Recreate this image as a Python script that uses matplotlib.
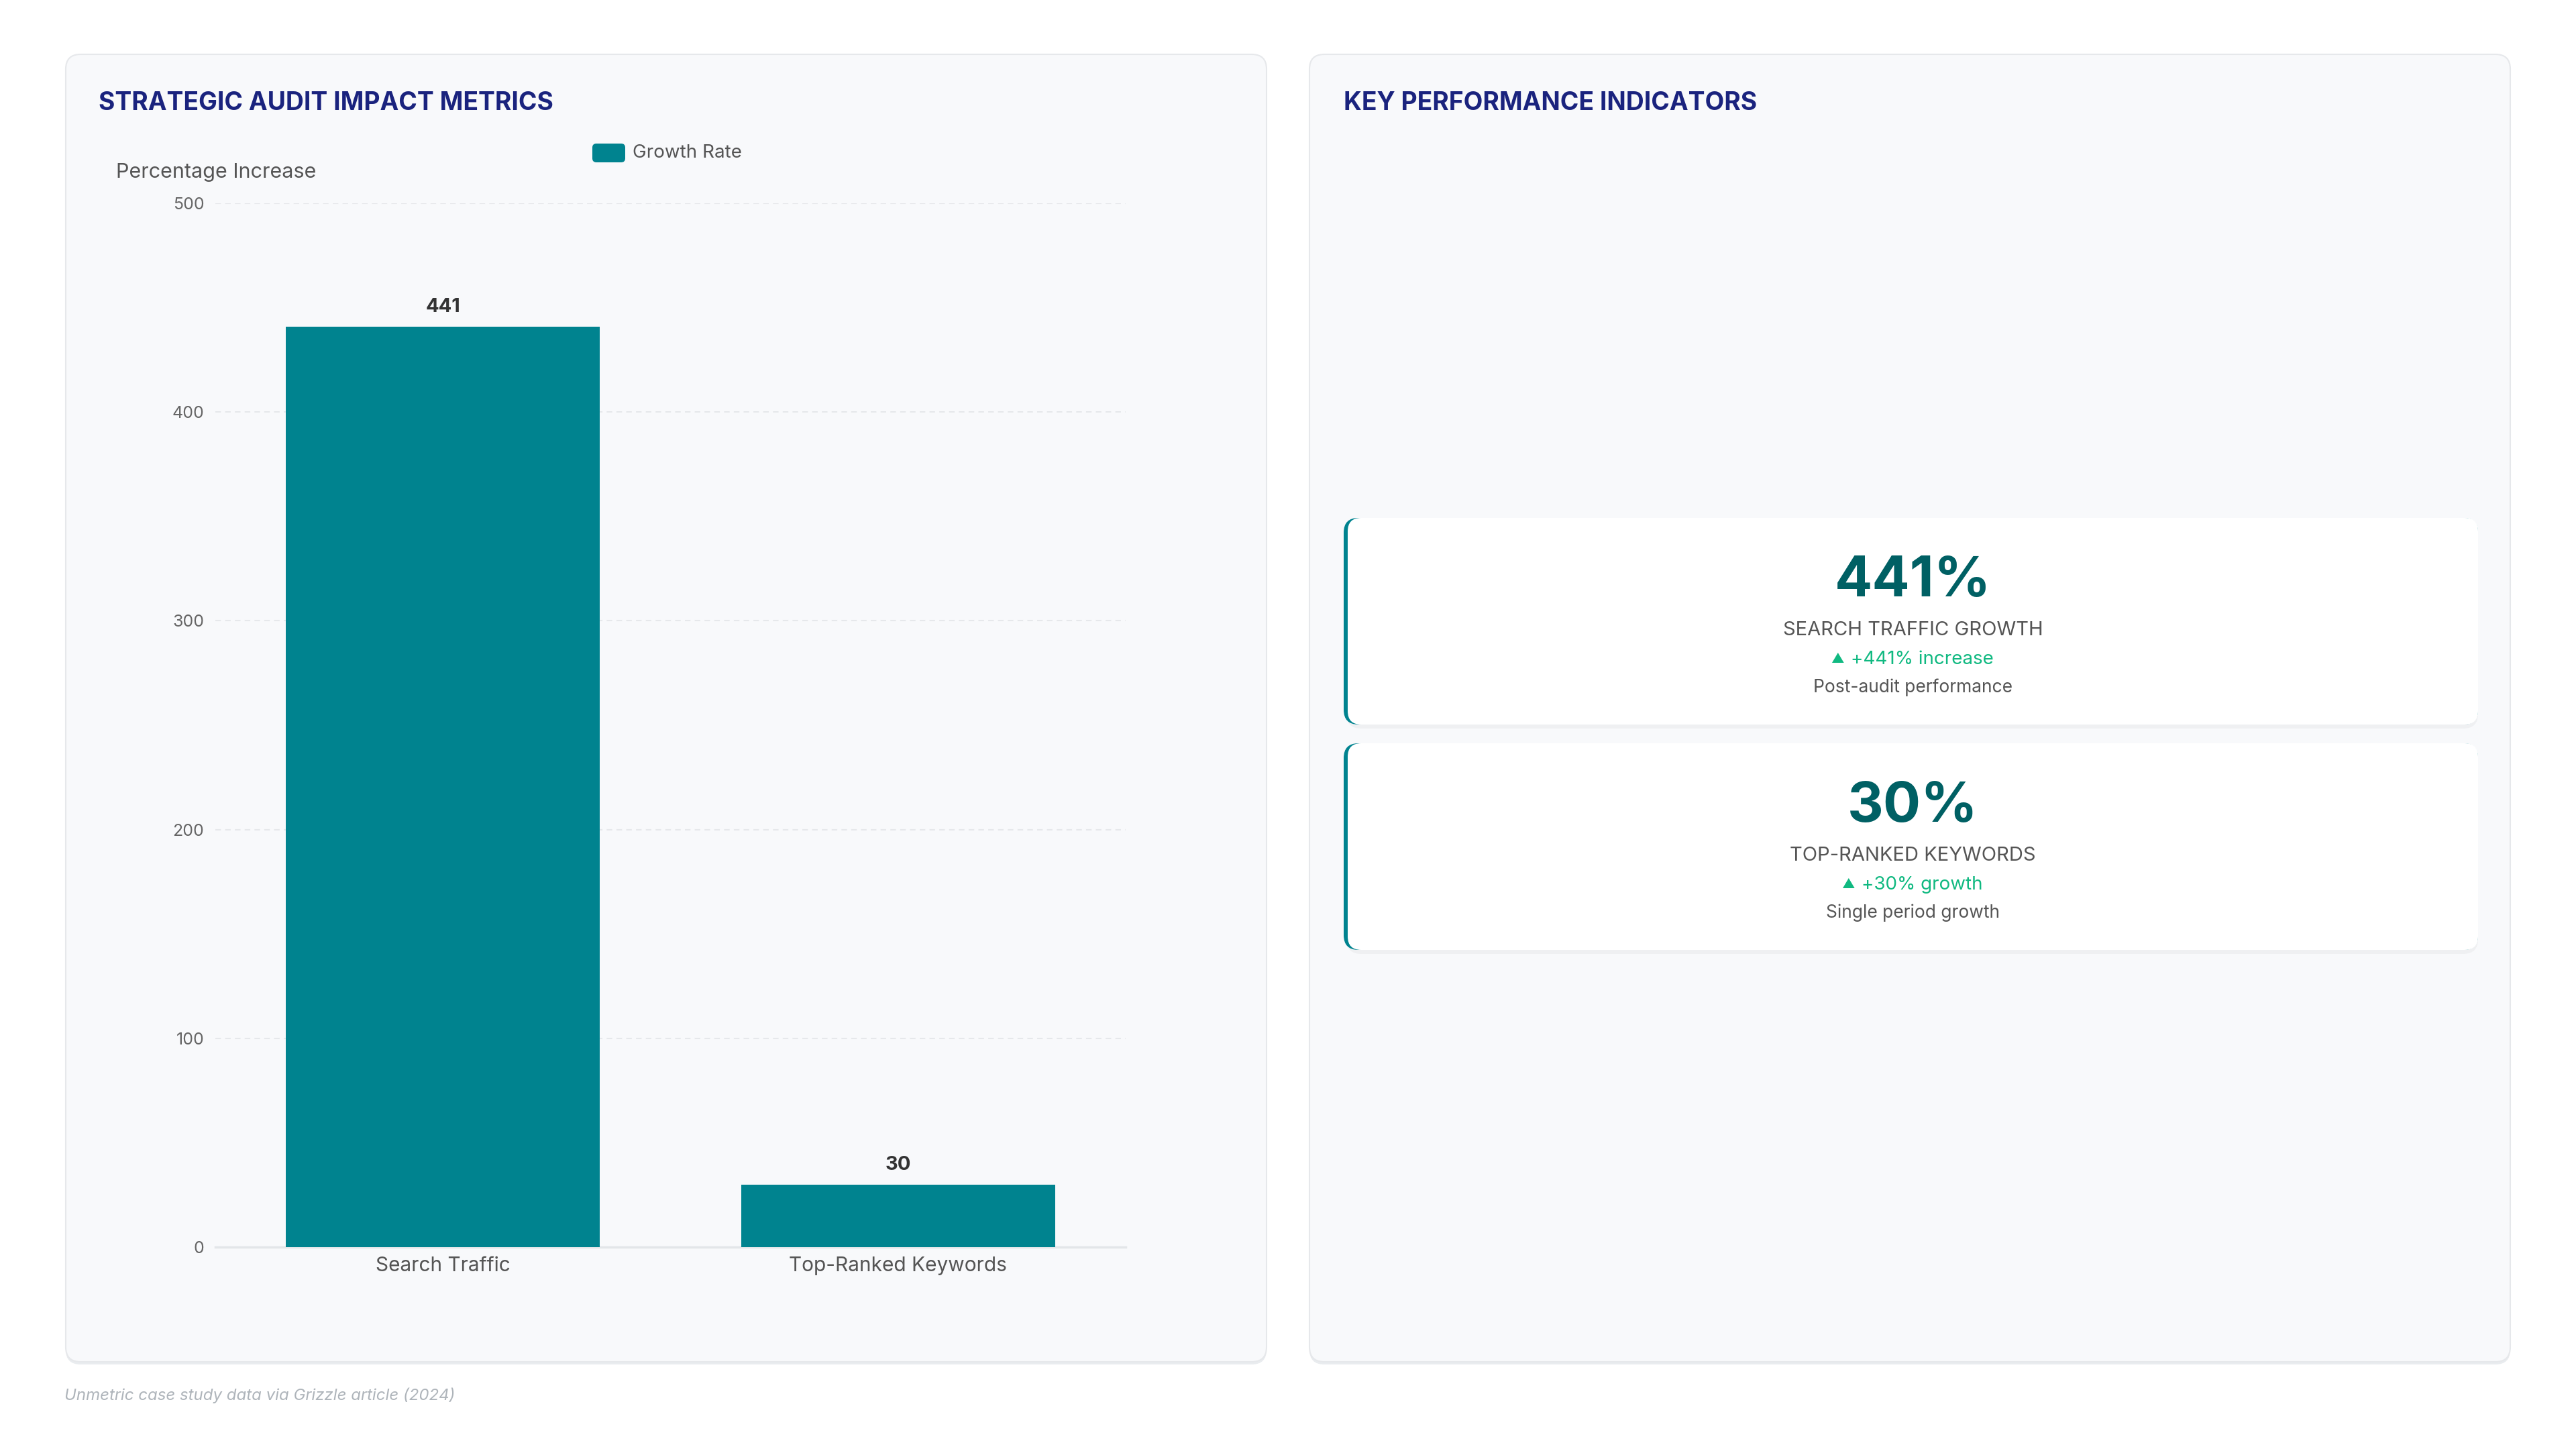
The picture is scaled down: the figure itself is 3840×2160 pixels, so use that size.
import matplotlib
matplotlib.use("Agg")
import matplotlib.pyplot as plt
from matplotlib.patches import FancyBboxPatch

plt.rcParams['font.family'] = ['Inter', 'DejaVu Sans']

# data
categories = ["Search Traffic", "Top-Ranked Keywords"]
growth_rate = [441, 30]
series_name = "Growth Rate"
y_ticks = [0, 100, 200, 300, 400, 500]

kpi_values = ["441%", "30%"]
kpi_titles = ["SEARCH TRAFFIC GROWTH", "TOP-RANKED KEYWORDS"]
kpi_changes = ["+441% increase", "+30% growth"]
kpi_notes = ["Post-audit performance", "Single period growth"]

TEAL = "#00838f"
NAVY = "#1a237e"
KPI_TEAL = "#006064"
GREEN = "#10b981"

W, H = 3840, 2160
fig = plt.figure(figsize=(38.4, 21.6), dpi=100)
fig.patch.set_facecolor("white")

# background layer in pixel units
bg = fig.add_axes([0, 0, 1, 1])
bg.set_xlim(0, W)
bg.set_ylim(H, 0)
bg.axis("off")


def rbox(x, y, w, h, r, fc, ec="none", lw=0, z=1, alpha=1.0):
    p = FancyBboxPatch((x, y), w, h, boxstyle=f"round,pad=0,rounding_size={r}",
                       fc=fc, ec=ec, lw=lw, zorder=z, alpha=alpha)
    bg.add_patch(p)
    return p


# panels
for px in (98, 1952):
    rbox(px, 84, 1790, 1950, 22, "#e9ecef", z=1)
    rbox(px, 81, 1790, 1949, 22, "#f8f9fb", ec="#e6e8eb", lw=1.5, z=2)

bg.text(147, 164, "STRATEGIC AUDIT IMPACT METRICS", fontsize=26.8, fontweight="bold",
        color=NAVY, va="baseline", zorder=5)
bg.text(2003, 164, "KEY PERFORMANCE INDICATORS", fontsize=26.8, fontweight="bold",
        color=NAVY, va="baseline", zorder=5)

# legend
rbox(883, 214, 49, 28, 6, TEAL, z=5)
bg.text(943, 228, series_name, fontsize=20, color="#555", va="center", zorder=5)
bg.text(173, 257, "Percentage Increase", fontsize=22, color="#555", va="center", zorder=5)

# caption
bg.text(96, 2087, "Unmetric case study data via Grizzle article (2024)", fontsize=17.3,
        style="italic", color="#aeb4ba", va="baseline", zorder=5)

# bar chart
ax = fig.add_axes([321 / W, 1 - 1859 / H, (1678 - 321) / W, (1859 - 303) / H])
ax.set_facecolor("none")
x = list(range(len(categories)))
ax.bar(x, growth_rate, width=0.69, color=TEAL, zorder=3)
for xi, v in zip(x, growth_rate):
    ax.annotate(f"{v}", (xi, v), xytext=(0, 16), textcoords="offset pixels",
                ha="center", va="bottom", fontsize=21, fontweight="bold", color="#333")
ax.set_xlim(-0.5, 1.5)
ax.set_ylim(0, 500)
ax.set_yticks(y_ticks)
ax.set_xticks(x)
ax.set_xticklabels(categories)
ax.tick_params(axis="y", length=0, pad=12, labelsize=18, labelcolor="#666")
ax.tick_params(axis="x", length=0, pad=10, labelsize=21.5, labelcolor="#555")
ax.grid(axis="y", linestyle=(0, (4, 3)), color="#e6e8eb", lw=1.5, zorder=0)
for s in ("top", "right", "left"):
    ax.spines[s].set_visible(False)
ax.spines["bottom"].set_color("#e3e6e9")
ax.spines["bottom"].set_linewidth(2.5)

# KPI cards
card_x, card_w, card_h = 2003, 1691, 308
card_tops = [772, 1108]
cx = card_x + card_w / 2 + 3
renderer = fig.canvas.get_renderer()
for i, top in enumerate(card_tops):
    rbox(card_x + 4, top + 6, card_w - 4, card_h, 22, "#000000", z=3, alpha=0.035)
    rbox(card_x, top, card_w, card_h, 22, TEAL, z=4)
    rbox(card_x + 6, top, card_w - 6, card_h, 20, "white", z=5)
    bg.text(cx, top + 117, kpi_values[i], fontsize=60, fontweight="bold",
            color=KPI_TEAL, ha="center", va="baseline", zorder=6)
    bg.text(cx, top + 175, kpi_titles[i], fontsize=21, color="#555",
            ha="center", va="baseline", zorder=6)
    t = bg.text(cx + 14, top + 218, kpi_changes[i], fontsize=20, color=GREEN,
                ha="center", va="baseline", zorder=6)
    # small up-arrow just left of the change text
    x0 = t.get_window_extent(renderer).x0
    bg.text(x0 - 20, top + 216, "▲", fontsize=14, color=GREEN,
            ha="center", va="baseline", zorder=6)
    bg.text(cx, top + 260, kpi_notes[i], fontsize=19, color="#555",
            ha="center", va="baseline", zorder=6)

fig.savefig("out.png", dpi=100, facecolor="white")
